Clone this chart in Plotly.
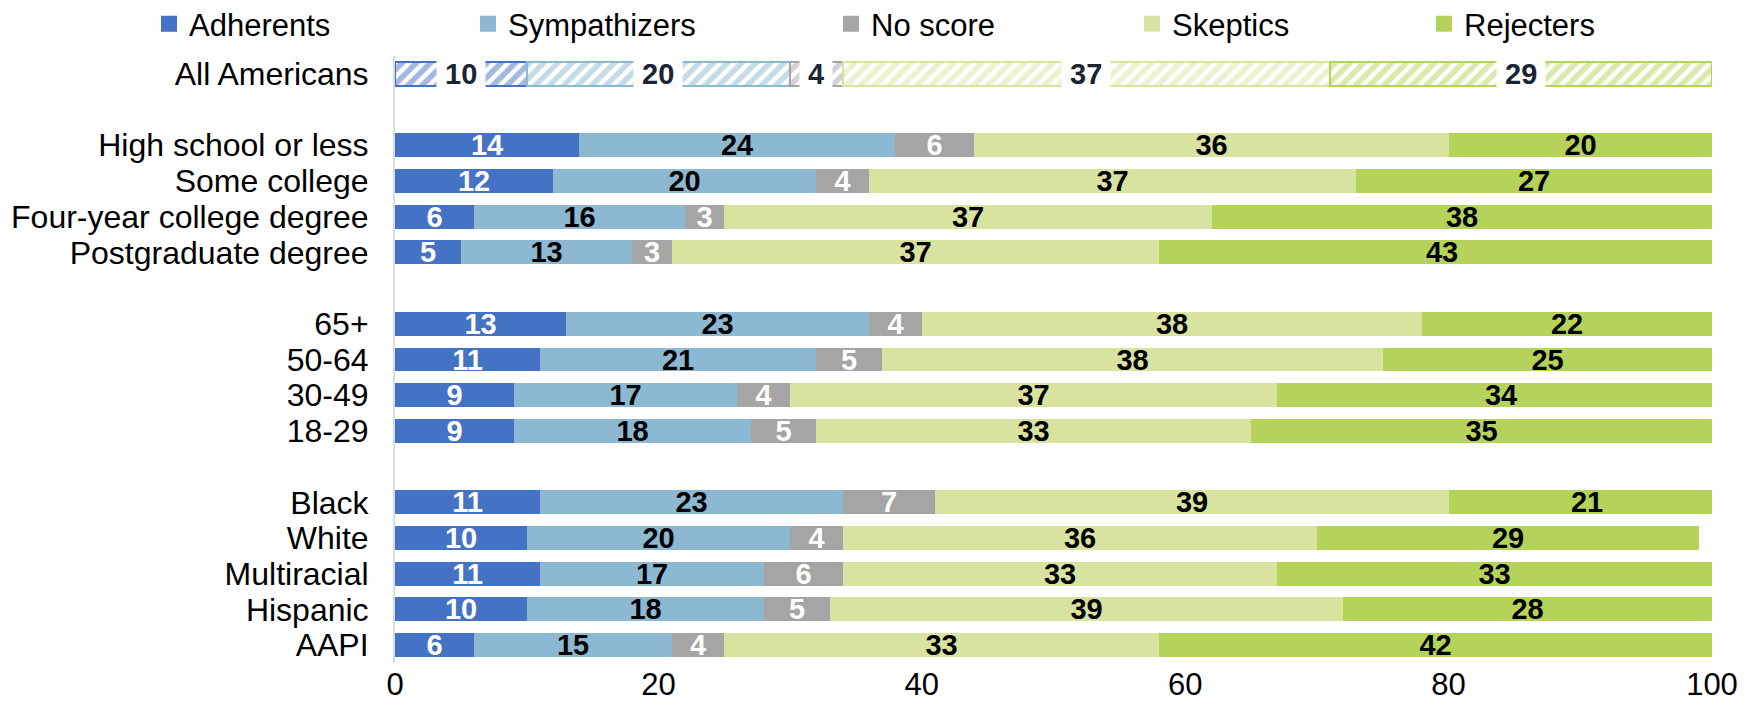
import plotly.graph_objects as go

# ---------------- data ----------------
groups = [
    ["All Americans"],
    ["High school or less", "Some college", "Four-year college degree", "Postgraduate degree"],
    ["65+", "50-64", "30-49", "18-29"],
    ["Black", "White", "Multiracial", "Hispanic", "AAPI"],
]
series_names = ["Adherents", "Sympathizers", "No score", "Skeptics", "Rejecters"]
adherents    = [10, 14, 12, 6, 5, 13, 11, 9, 9, 11, 10, 11, 10, 6]
sympathizers = [20, 24, 20, 16, 13, 23, 21, 17, 18, 23, 20, 17, 18, 15]
no_score     = [4, 6, 4, 3, 3, 4, 5, 4, 5, 7, 4, 6, 5, 4]
skeptics     = [37, 36, 37, 37, 37, 38, 38, 37, 33, 39, 36, 33, 39, 33]
rejecters    = [29, 20, 27, 38, 43, 22, 25, 34, 35, 21, 29, 33, 28, 42]
x_ticks = [0, 20, 40, 60, 80, 100]

# ---------------- style ----------------
colors = ["#4472C4", "#8DB8D1", "#A5A5A5", "#D9E3A0", "#B5D35A"]
label_colors = ["#FFFFFF", "#000000", "#FFFFFF", "#000000", "#000000"]
FONT = "Arial, Liberation Sans, sans-serif"
values = [adherents, sympathizers, no_score, skeptics, rejecters]

# row positions: one blank slot between groups
categories, positions = [], []
pos = 0
for g in groups:
    for c in g:
        categories.append(c)
        positions.append(pos)
        pos += 1
    pos += 1
last_slot = positions[-1]

fig = go.Figure()
legend_ids = ["legend", "legend2", "legend3", "legend4", "legend5"]

# main (solid) bars, all rows except "All Americans"
for i, name in enumerate(series_names):
    vals = values[i][1:]
    fig.add_trace(go.Bar(
        name=name,
        orientation="h",
        y=positions[1:],
        x=vals,
        width=0.67,
        marker=dict(color=colors[i], line=dict(width=0)),
        text=[str(v) for v in vals],
        textposition="inside",
        insidetextanchor="middle",
        textangle=0,
        constraintext="none",
        insidetextfont=dict(family=FONT, size=29, color=label_colors[i], weight="bold"),
        showlegend=False,
        hoverinfo="skip",
    ))

# hatched "All Americans" bars
for i, name in enumerate(series_names):
    fig.add_trace(go.Bar(
        name=name,
        orientation="h",
        y=[positions[0]],
        x=[values[i][0]],
        width=0.67,
        marker=dict(
            color=colors[i],
            line=dict(color=colors[i], width=2),
            pattern=dict(shape="/", fgcolor=colors[i], bgcolor="#FFFFFF",
                         size=10, solidity=0.55),
        ),
        showlegend=False,
        hoverinfo="skip",
    ))

# legend-only entries (larger square swatches)
for i, name in enumerate(series_names):
    fig.add_trace(go.Bar(
        name=name,
        orientation="h",
        x=[None], y=[None],
        marker=dict(color=colors[i], line=dict(color=colors[i], width=4)),
        legend=legend_ids[i],
        showlegend=True,
        hoverinfo="skip",
    ))

# labels with white boxes on the "All Americans" row
cum = 0
annotations = []
for i in range(len(series_names)):
    v = values[i][0]
    annotations.append(dict(
        x=cum + v / 2, y=positions[0], xref="x", yref="y",
        text=str(v), showarrow=False,
        font=dict(family=FONT, size=29, color="#1B2433", weight="bold"),
        bgcolor="#FFFFFF", borderpad=8,
    ))
    cum += v

# geometry (figure coordinates)
W, H = 1758, 717
plot_left, plot_right = 387, 1704
plot_top, plot_bottom = 48, 655
pw = plot_right - plot_left
ph = plot_bottom - plot_top
legend_text_x = [180, 499, 862, 1163, 1455]
layout_legends = {}
for i, lid in enumerate(legend_ids):
    layout_legends[lid] = dict(
        x=(legend_text_x[i] - 39 - plot_left) / pw, xanchor="left",
        y=1 + (plot_top - 16) / ph, yanchor="middle",
        orientation="h",
        font=dict(family=FONT, size=31, color="#000000"),
        bgcolor="rgba(0,0,0,0)", borderwidth=0,
        itemwidth=30, itemclick=False, itemdoubleclick=False,
    )

fig.update_layout(
    width=W, height=H,
    barmode="stack",
    bargap=0,
    plot_bgcolor="#FFFFFF", paper_bgcolor="#FFFFFF",
    margin=dict(l=plot_left, r=W - plot_right, t=plot_top, b=H - plot_bottom, autoexpand=False),
    font=dict(family=FONT, size=31, color="#000000"),
    uniformtext=dict(mode="show", minsize=29),
    annotations=annotations,
    xaxis=dict(
        range=[0, 100], tickvals=x_ticks, ticktext=[str(t) for t in x_ticks],
        showgrid=False, zeroline=False, showline=False, ticks="",
        tickfont=dict(family=FONT, size=31, color="#000000"),
        ticklabelstandoff=0, fixedrange=True, automargin=False,
    ),
    yaxis=dict(
        range=[last_slot + 0.5, -0.5],
        tickvals=positions, ticktext=categories,
        showgrid=False, zeroline=False,
        showline=True, linecolor="#D3DCE8", linewidth=2,
        ticks="", ticklabelstandoff=18,
        tickfont=dict(family=FONT, size=32, color="#000000"),
        fixedrange=True, automargin=False,
    ),
    **layout_legends,
)

fig.write_html("out.html")
